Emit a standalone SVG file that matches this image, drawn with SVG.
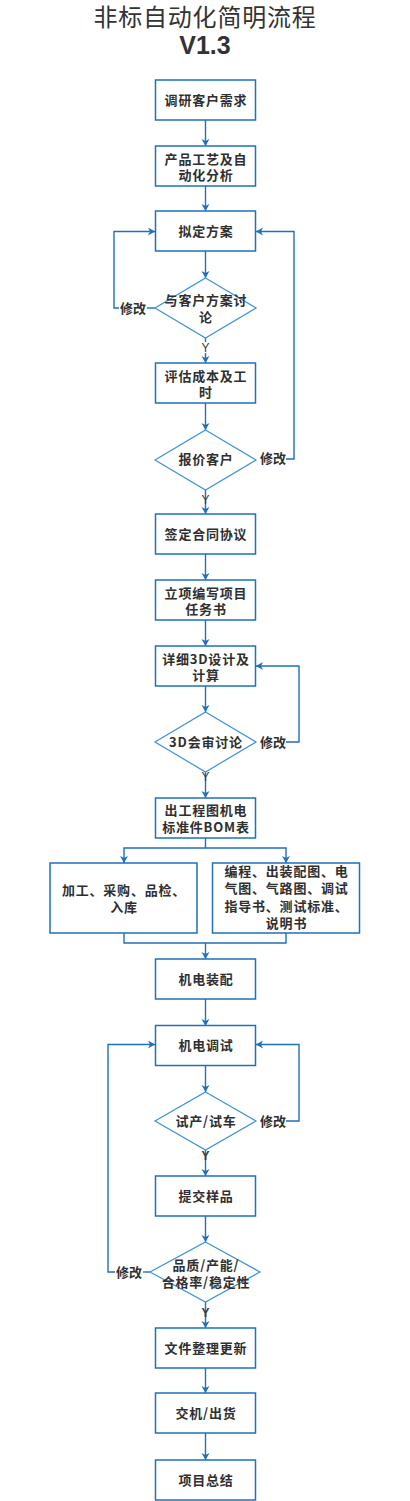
<svg xmlns="http://www.w3.org/2000/svg" width="410" height="1501" viewBox="0 0 410 1501">
<style>
.box{fill:#fff;stroke:#1f70bd;stroke-width:1.5}
.dia{fill:#fff;stroke:#3c92d6;stroke-width:1.2}
.ln{fill:none;stroke:#1f70bd;stroke-width:1.4}
.t{font-family:"Noto Sans CJK SC","Noto Sans",sans-serif;font-size:13px;font-weight:bold;fill:#2f2f2f;text-anchor:middle;letter-spacing:0.8px}
.lb{font-family:"Noto Sans CJK SC","Noto Sans",sans-serif;font-size:13px;font-weight:bold;fill:#2f2f2f;text-anchor:middle}
.y{font-family:"Liberation Sans","DejaVu Sans",sans-serif;font-size:12px;fill:#3a3a3a;text-anchor:middle}
</style>
<defs>
<marker id="ah" markerWidth="9" markerHeight="9" refX="7" refY="4" orient="auto" markerUnits="userSpaceOnUse">
<path d="M0,0 L7,4 L0,8 L2,4 z" fill="#1f70bd"/>
</marker>
</defs>
<rect width="410" height="1501" fill="#fff"/>
<g id="title">
<text x="205" y="26" font-family="'Noto Sans CJK SC',sans-serif" font-size="24" fill="#333" text-anchor="middle" letter-spacing="0.8">非标自动化简明流程</text>
<text x="205" y="54" font-family="'Liberation Sans',Arial,sans-serif" font-size="25" font-weight="bold" fill="#333" text-anchor="middle">V1.3</text>
</g>
<g id="connectors">
<path class="ln" d="M205.5,120 V146" marker-end="url(#ah)"/>
<path class="ln" d="M205.5,186 V211" marker-end="url(#ah)"/>
<path class="ln" d="M205.5,251 V278" marker-end="url(#ah)"/>
<path class="ln" d="M205.5,338 V342 M205.5,353 V363" marker-end="url(#ah)"/>
<path class="ln" d="M205.5,403 V430" marker-end="url(#ah)"/>
<path class="ln" d="M205.5,490 V514" marker-end="url(#ah)"/>
<path class="ln" d="M205.5,554 V580" marker-end="url(#ah)"/>
<path class="ln" d="M205.5,620 V646" marker-end="url(#ah)"/>
<path class="ln" d="M205.5,686 V712" marker-end="url(#ah)"/>
<path class="ln" d="M205.5,772 V798" marker-end="url(#ah)"/>
<path class="ln" d="M205.5,838 V848 H124 V863" marker-end="url(#ah)"/>
<path class="ln" d="M205.5,848 H286 V863" marker-end="url(#ah)"/>
<path class="ln" d="M124,933 V943 H286 V933"/>
<path class="ln" d="M205.5,943 V959" marker-end="url(#ah)"/>
<path class="ln" d="M205.5,999 V1026" marker-end="url(#ah)"/>
<path class="ln" d="M205.5,1065 V1092" marker-end="url(#ah)"/>
<path class="ln" d="M205.5,1150 V1176" marker-end="url(#ah)"/>
<path class="ln" d="M205.5,1216 V1242" marker-end="url(#ah)"/>
<path class="ln" d="M205.5,1302 V1328" marker-end="url(#ah)"/>
<path class="ln" d="M205.5,1368 V1393" marker-end="url(#ah)"/>
<path class="ln" d="M205.5,1433 V1460" marker-end="url(#ah)"/>
<path class="ln" d="M155,308 H147"/>
<path class="ln" d="M119,308 H114 V231.5 H155" marker-end="url(#ah)"/>
<path class="ln" d="M286,459 H294 V231.5 H256" marker-end="url(#ah)"/>
<path class="ln" d="M286,742 H299 V666 H256" marker-end="url(#ah)"/>
<path class="ln" d="M286,1121 H299 V1044.5 H256" marker-end="url(#ah)"/>
<path class="ln" d="M150,1272 H143"/>
<path class="ln" d="M115,1272 H108 V1044.5 H155" marker-end="url(#ah)"/>
</g>
<g id="n1"><rect class="box" x="155.5" y="80" width="100" height="40"/><text class="t" x="206" y="105">调研客户需求</text></g>
<g id="n2"><rect class="box" x="155.5" y="146" width="100" height="40"/><text class="t" x="206" y="164">产品工艺及自</text><text class="t" x="206" y="180">动化分析</text></g>
<g id="n3"><rect class="box" x="155.5" y="211" width="100" height="40"/><text class="t" x="206" y="236">拟定方案</text></g>
<g id="d1"><path class="dia" d="M205.5,278 L256,308 L205.5,338 L155,308 Z"/><text class="t" x="206" y="305">与客户方案讨</text><text class="t" x="206" y="322">论</text></g>
<text class="lb" x="133" y="313">修改</text>
<text class="y" x="205.5" y="352">Y</text>
<g id="n4"><rect class="box" x="155.5" y="363" width="100" height="40"/><text class="t" x="206" y="381">评估成本及工</text><text class="t" x="206" y="397">时</text></g>
<g id="d2"><path class="dia" d="M205.5,430 L256,460 L205.5,490 L155,460 Z"/><text class="t" x="206" y="464">报价客户</text></g>
<text class="lb" x="273" y="463">修改</text>
<text class="y" x="205.5" y="504">Y</text>
<g id="n5"><rect class="box" x="155.5" y="514" width="100" height="40"/><text class="t" x="206" y="539">签定合同协议</text></g>
<g id="n6"><rect class="box" x="155.5" y="580" width="100" height="40"/><text class="t" x="206" y="598">立项编写项目</text><text class="t" x="206" y="614">任务书</text></g>
<g id="n7"><rect class="box" x="155.5" y="646" width="100" height="40"/><text class="t" x="206" y="664">详细3D设计及</text><text class="t" x="206" y="680">计算</text></g>
<g id="d3"><path class="dia" d="M205.5,712 L256,742 L205.5,772 L155,742 Z"/><text class="t" x="206" y="747">3D会审讨论</text></g>
<text class="lb" x="273" y="747">修改</text>
<text class="y" x="205.5" y="781">Y</text>
<g id="n8"><rect class="box" x="155.5" y="798" width="100" height="40"/><text class="t" x="206" y="815">出工程图机电</text><text class="t" x="206" y="832">标准件BOM表</text></g>
<g id="n9"><rect class="box" x="50" y="863" width="147" height="70"/><text class="t" x="124" y="895">加工、采购、品检、</text><text class="t" x="124" y="912">入库</text></g>
<g id="n10"><rect class="box" x="212.5" y="863" width="147" height="70"/><text class="t" x="286.5" y="876">编程、出装配图、电</text><text class="t" x="286.5" y="893">气图、气路图、调试</text><text class="t" x="286.5" y="911">指导书、测试标准、</text><text class="t" x="286.5" y="928">说明书</text></g>
<g id="n11"><rect class="box" x="155.5" y="959" width="100" height="40"/><text class="t" x="206" y="984">机电装配</text></g>
<g id="n12"><rect class="box" x="155.5" y="1025.5" width="100" height="40"/><text class="t" x="206" y="1050">机电调试</text></g>
<g id="d4"><path class="dia" d="M205.5,1092 L256,1121 L205.5,1150 L155,1121 Z"/><text class="t" x="206" y="1126">试产/试车</text></g>
<text class="lb" x="273" y="1126">修改</text>
<text class="y" x="205.5" y="1160" font-weight="bold">Y</text>
<g id="n13"><rect class="box" x="155.5" y="1176" width="100" height="40"/><text class="t" x="206" y="1201">提交样品</text></g>
<g id="d5"><path class="dia" d="M205.5,1242 L260,1272 L205.5,1302 L150,1272 Z"/><text class="t" x="206" y="1270">品质/产能/</text><text class="t" x="206" y="1287">合格率/稳定性</text></g>
<text class="lb" x="129" y="1277">修改</text>
<text class="y" x="205.5" y="1317" font-weight="bold">Y</text>
<g id="n14"><rect class="box" x="155.5" y="1328" width="100" height="40"/><text class="t" x="206" y="1353">文件整理更新</text></g>
<g id="n15"><rect class="box" x="155.5" y="1393" width="100" height="40"/><text class="t" x="206" y="1418">交机/出货</text></g>
<g id="n16"><rect class="box" x="155.5" y="1460" width="100" height="40"/><text class="t" x="206" y="1485">项目总结</text></g>
</svg>
